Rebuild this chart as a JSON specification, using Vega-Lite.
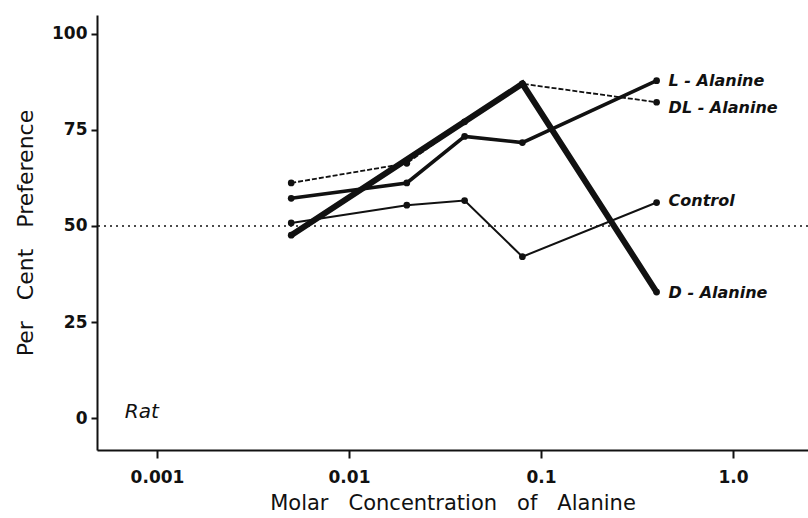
{
  "$schema": "https://vega.github.io/schema/vega-lite/v6.json",
  "width": 711,
  "height": 435,
  "autosize": {"type": "none"},
  "padding": {"left": 97, "top": 15, "right": 0, "bottom": 68},
  "background": "white",
  "config": {
    "view": {"stroke": null},
    "font": "DejaVu Sans",
    "axis": {"domainColor": "#111", "tickColor": "#111", "labelColor": "#111", "titleColor": "#111", "grid": false, "domainWidth": 2, "tickWidth": 2}
  },
  "datasets": {
    "pts": [
      {"series": "L - Alanine", "conc": 0.005, "pref": 57.2},
      {"series": "L - Alanine", "conc": 0.02, "pref": 61.2},
      {"series": "L - Alanine", "conc": 0.04, "pref": 73.3},
      {"series": "L - Alanine", "conc": 0.08, "pref": 71.7},
      {"series": "L - Alanine", "conc": 0.4, "pref": 87.8},
      {"series": "DL - Alanine", "conc": 0.005, "pref": 61.2},
      {"series": "DL - Alanine", "conc": 0.02, "pref": 66.3},
      {"series": "DL - Alanine", "conc": 0.04, "pref": 77.1},
      {"series": "DL - Alanine", "conc": 0.08, "pref": 87.0},
      {"series": "DL - Alanine", "conc": 0.4, "pref": 82.2},
      {"series": "Control", "conc": 0.005, "pref": 50.8},
      {"series": "Control", "conc": 0.02, "pref": 55.4},
      {"series": "Control", "conc": 0.04, "pref": 56.6},
      {"series": "Control", "conc": 0.08, "pref": 42.0},
      {"series": "Control", "conc": 0.4, "pref": 56.1},
      {"series": "D - Alanine", "conc": 0.005, "pref": 47.6},
      {"series": "D - Alanine", "conc": 0.08, "pref": 87.0},
      {"series": "D - Alanine", "conc": 0.4, "pref": 32.8}
    ],
    "labels": [
      {"label": "L - Alanine", "conc": 0.4, "pref": 87.8},
      {"label": "DL - Alanine", "conc": 0.4, "pref": 80.6},
      {"label": "Control", "conc": 0.4, "pref": 56.4},
      {"label": "D - Alanine", "conc": 0.4, "pref": 32.6}
    ],
    "note": [{"label": "Rat", "conc": 0.00068, "pref": 1.5}]
  },
  "encoding": {
    "x": {
      "field": "conc", "type": "quantitative",
      "scale": {"type": "log", "domain": [0.000487, 2.458], "nice": false},
      "axis": {
        "values": [0.001, 0.01, 0.1, 1],
        "labelExpr": "datum.value == 1 ? '1.0' : datum.label",
        "title": "Molar\u00a0\u00a0 Concentration\u00a0\u00a0 of\u00a0\u00a0 Alanine",
        "titleFontSize": 21, "titleFontWeight": "normal", "titlePadding": 7,
        "labelFontSize": 17, "labelFontWeight": "bold", "labelPadding": 11,
        "tickSize": 8, "domainWidth": 2
      }
    },
    "y": {
      "field": "pref", "type": "quantitative",
      "scale": {"domain": [-8.3, 104.9], "nice": false, "zero": false},
      "axis": {
        "values": [0, 25, 50, 75, 100],
        "title": "Per\u00a0\u00a0 Cent\u00a0\u00a0 Preference",
        "titleFontSize": 22, "titleFontWeight": "normal", "titlePadding": 14,
        "labelFontSize": 17, "labelFontWeight": "bold", "labelPadding": 4,
        "tickSize": 6
      }
    }
  },
  "layer": [
    {
      "mark": {"type": "rule", "strokeDash": [2, 4], "strokeWidth": 1.6, "color": "#111"},
      "data": {"values": [{"ref": 50}]},
      "encoding": {"y": {"field": "ref", "type": "quantitative"}, "x": null}
    },
    {
      "data": {"name": "pts"},
      "transform": [{"filter": "datum.series == 'DL - Alanine'"}],
      "mark": {"type": "line", "color": "#111", "strokeWidth": 1.8, "strokeDash": [5, 2]}
    },
    {
      "data": {"name": "pts"},
      "transform": [{"filter": "datum.series == 'Control'"}],
      "mark": {"type": "line", "color": "#111", "strokeWidth": 2}
    },
    {
      "data": {"name": "pts"},
      "transform": [{"filter": "datum.series == 'L - Alanine'"}],
      "mark": {"type": "line", "color": "#111", "strokeWidth": 3.6}
    },
    {
      "data": {"name": "pts"},
      "transform": [{"filter": "datum.series == 'D - Alanine'"}],
      "mark": {"type": "line", "color": "#111", "strokeWidth": 6}
    },
    {
      "data": {"name": "pts"},
      "mark": {"type": "point", "filled": true, "color": "#111", "opacity": 1, "size": 45}
    },
    {
      "data": {"name": "labels"},
      "mark": {"type": "text", "align": "left", "baseline": "middle", "dx": 12, "fontSize": 16, "fontStyle": "italic", "fontWeight": "bold", "font": "DejaVu Sans", "color": "#111"},
      "encoding": {"text": {"field": "label"}}
    },
    {
      "data": {"name": "note"},
      "mark": {"type": "text", "align": "left", "baseline": "middle", "fontSize": 20, "fontStyle": "italic", "font": "DejaVu Sans", "color": "#111"},
      "encoding": {"text": {"field": "label"}}
    }
  ]
}
